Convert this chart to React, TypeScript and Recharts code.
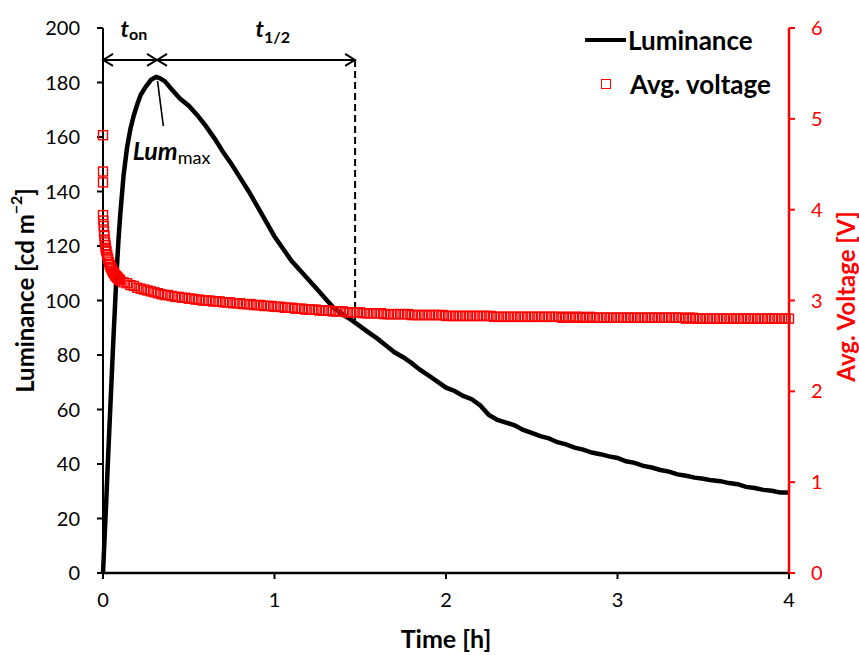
import React from "react";
import { ComposedChart, Line, Scatter, XAxis, YAxis, ReferenceLine, ReferenceDot } from "recharts";

// luminance trace [h] / [cd m-2]
const lumTime = [
  0, 0.01, 0.02, 0.03, 0.04, 0.05, 0.06, 0.07, 0.08, 0.09, 0.1,
  0.12, 0.14, 0.16, 0.18, 0.2, 0.22,
  0.25, 0.28, 0.31, 0.33, 0.36, 0.4, 0.45,
  0.5, 0.55, 0.6, 0.65, 0.7, 0.75, 0.8, 0.85, 0.9, 0.95,
  1.0, 1.05, 1.1, 1.15, 1.2, 1.25, 1.3, 1.35, 1.4, 1.45,
  1.5, 1.55, 1.6, 1.65, 1.7, 1.75, 1.8, 1.85, 1.9, 1.95,
  2.0, 2.05, 2.1, 2.15, 2.2, 2.25, 2.3, 2.35, 2.4, 2.45,
  2.5, 2.55, 2.6, 2.65, 2.7, 2.75, 2.8, 2.85, 2.9, 2.95,
  3.0, 3.05, 3.1, 3.15, 3.2, 3.25, 3.3, 3.35, 3.4, 3.45,
  3.5, 3.55, 3.6, 3.65, 3.7, 3.75, 3.8, 3.85, 3.9, 3.95, 4.0,
];
const lumValue = [
  0, 14, 28, 43, 57, 71, 85, 98, 111, 122, 131,
  146, 156, 163, 168, 172, 175.5,
  178.5, 181, 182, 181.6, 180.5, 177.5, 174,
  171.5, 168, 164, 159.5, 154.5, 150, 145, 140, 134.5, 129,
  123.5, 119, 114.5, 111, 107.5, 104, 100.5, 97, 94.8, 92.8,
  90.5, 88.2, 86, 83.5, 81, 79.2, 77, 74.5, 72.4, 70.2,
  68, 66.8, 65, 63.8, 61.5, 58, 56.2, 55.2, 54.2, 52.5,
  51.4, 50.2, 49.4, 48, 47.2, 46, 45.3, 44.2, 43.6, 42.8,
  42.2, 41, 40.4, 39.3, 38.7, 37.8, 37.2, 36.2, 35.7, 35,
  34.6, 34, 33.7, 33, 32.6, 31.6, 31.2, 30.5, 30.2, 29.5, 29.5,
];

// average voltage [h] / [V]
const voltTime = [
  0, 0, 0, 0, 0.002, 0.004, 0.006, 0.008, 0.01, 0.012, 0.014, 0.016, 0.018,
  0.02, 0.025, 0.03, 0.035, 0.04,
  0.045, 0.05, 0.055, 0.06, 0.065, 0.07, 0.075, 0.08, 0.085, 0.09, 0.095,
  0.1, 0.12, 0.14, 0.16, 0.18, 0.2, 0.22, 0.24, 0.26, 0.28,
  0.3, 0.32, 0.34, 0.36, 0.38, 0.4, 0.42, 0.44, 0.46, 0.48,
  0.5, 0.52, 0.54, 0.56, 0.58, 0.6, 0.62, 0.64, 0.66, 0.68,
  0.7, 0.72, 0.74, 0.76, 0.78, 0.8, 0.82, 0.84, 0.86, 0.88,
  0.9, 0.92, 0.94, 0.96, 0.98, 1.0, 1.02, 1.04, 1.06, 1.08,
  1.1, 1.12, 1.14, 1.16, 1.18, 1.2, 1.22, 1.24, 1.26, 1.28,
  1.3, 1.32, 1.34, 1.36, 1.38, 1.4, 1.42, 1.44, 1.46, 1.48,
  1.5, 1.52, 1.54, 1.56, 1.58, 1.6, 1.62, 1.64, 1.66, 1.68,
  1.7, 1.72, 1.74, 1.76, 1.78, 1.8, 1.82, 1.84, 1.86, 1.88,
  1.9, 1.92, 1.94, 1.96, 1.98, 2.0, 2.02, 2.04, 2.06, 2.08,
  2.1, 2.12, 2.14, 2.16, 2.18, 2.2, 2.22, 2.24, 2.26, 2.28,
  2.3, 2.32, 2.34, 2.36, 2.38, 2.4, 2.42, 2.44, 2.46, 2.48,
  2.5, 2.52, 2.54, 2.56, 2.58, 2.6, 2.62, 2.64, 2.66, 2.68,
  2.7, 2.72, 2.74, 2.76, 2.78, 2.8, 2.82, 2.84, 2.86, 2.88,
  2.9, 2.92, 2.94, 2.96, 2.98, 3.0, 3.02, 3.04, 3.06, 3.08,
  3.1, 3.12, 3.14, 3.16, 3.18, 3.2, 3.22, 3.24, 3.26, 3.28,
  3.3, 3.32, 3.34, 3.36, 3.38, 3.4, 3.42, 3.44, 3.46, 3.48,
  3.5, 3.52, 3.54, 3.56, 3.58, 3.6, 3.62, 3.64, 3.66, 3.68,
  3.7, 3.72, 3.74, 3.76, 3.78, 3.8, 3.82, 3.84, 3.86, 3.88,
  3.9, 3.92, 3.94, 3.96, 3.98, 4.0,
];
const voltValue = [
  4.82, 4.42, 4.3, 3.94, 3.88, 3.82, 3.76, 3.71, 3.67, 3.64, 3.61, 3.58, 3.56,
  3.54, 3.5, 3.46, 3.42, 3.39,
  3.37, 3.35, 3.33, 3.31, 3.3, 3.28, 3.27, 3.26, 3.25, 3.24, 3.23,
  3.22, 3.2, 3.19, 3.17, 3.16, 3.14, 3.13, 3.12, 3.11, 3.1,
  3.09, 3.08, 3.07, 3.06, 3.06, 3.05, 3.04, 3.04, 3.03, 3.03,
  3.02, 3.02, 3.01, 3.01, 3.0, 3.0, 3.0, 2.99, 2.99, 2.99,
  2.98, 2.98, 2.98, 2.97, 2.97, 2.97, 2.96, 2.96, 2.96, 2.95,
  2.95, 2.95, 2.94, 2.94, 2.94, 2.93, 2.93, 2.93, 2.92, 2.92,
  2.92, 2.91, 2.91, 2.91, 2.9, 2.9, 2.9, 2.9, 2.89, 2.89,
  2.89, 2.89, 2.88, 2.88, 2.88, 2.88, 2.87, 2.87, 2.87, 2.87,
  2.87, 2.86, 2.86, 2.86, 2.86, 2.86, 2.86, 2.85, 2.85, 2.85,
  2.85, 2.85, 2.85, 2.85, 2.85, 2.84, 2.84, 2.84, 2.84, 2.84,
  2.84, 2.84, 2.84, 2.84, 2.84, 2.83, 2.83, 2.83, 2.83, 2.83,
  2.83, 2.83, 2.83, 2.83, 2.83, 2.83, 2.83, 2.83, 2.83, 2.82,
  2.82, 2.82, 2.82, 2.82, 2.82, 2.82, 2.82, 2.82, 2.82, 2.82,
  2.82, 2.82, 2.82, 2.82, 2.82, 2.82, 2.82, 2.82, 2.82, 2.81,
  2.82, 2.82, 2.81, 2.82, 2.82, 2.81, 2.81, 2.82, 2.81, 2.81,
  2.81, 2.81, 2.81, 2.81, 2.81, 2.81, 2.81, 2.81, 2.81, 2.81,
  2.81, 2.81, 2.81, 2.81, 2.81, 2.81, 2.81, 2.81, 2.81, 2.81,
  2.81, 2.81, 2.81, 2.81, 2.81, 2.8, 2.81, 2.81, 2.8, 2.8,
  2.8, 2.8, 2.8, 2.8, 2.8, 2.8, 2.8, 2.8, 2.8, 2.8,
  2.8, 2.8, 2.8, 2.8, 2.8, 2.8, 2.8, 2.8, 2.8, 2.8,
  2.8, 2.8, 2.8, 2.8, 2.8, 2.8,
];

const timeTicks = [0, 1, 2, 3, 4];
const lumTicks = [0, 20, 40, 60, 80, 100, 120, 140, 160, 180, 200];
const voltTicks = [0, 1, 2, 3, 4, 5, 6];

// annotation anchors (data units)
const tMax = 0.315;
const tHalf = 1.47;
const arrowLum = 188.3;
const halfLum = 91.5;

const lumData = lumTime.map((t, i) => ({ t, lum: lumValue[i] }));
const voltData = voltTime.map((t, i) => ({ t, volt: voltValue[i] }));

const FONT = "Lato, 'Open Sans', sans-serif";
const RED = "#FF0000";

const tickStyle = { fontSize: 20, fontFamily: FONT, fill: "#000" };

function HollowSquare(props: any) {
  const { cx, cy } = props;
  if (cx == null || cy == null) return null;
  return <rect x={cx - 4.5} y={cy - 4.5} width={9} height={9} fill="none" stroke={RED} strokeWidth={1.4} />;
}

const LeftTitle = (props: any) => {
  const { x, y, height } = props.viewBox;
  const cx = x + 24;
  const cy = y + height / 2 - 10;
  return (
    <text x={cx} y={cy} transform={`rotate(-90 ${cx} ${cy})`} textAnchor="middle" dominantBaseline="central"
      fontFamily={FONT} fontWeight="bold" fontSize={24} fill="#000">
      Luminance [cd m<tspan dy={-9} fontSize={16}>−2</tspan><tspan dy={9}>]</tspan>
    </text>
  );
};

const RightTitle = (props: any) => {
  const { x, y, height } = props.viewBox;
  const cx = x + 56;
  const cy = y + height / 2 - 4;
  return (
    <text x={cx} y={cy} transform={`rotate(-90 ${cx} ${cy})`} textAnchor="middle" dominantBaseline="central"
      fontFamily={FONT} fontWeight="bold" fontSize={24} fill={RED}>
      Avg. Voltage [V]
    </text>
  );
};

const BottomTitle = (props: any) => {
  const { x, y, width } = props.viewBox;
  return (
    <text x={x + width / 2} y={y + 75} textAnchor="middle" fontFamily={FONT} fontWeight="bold" fontSize={25} fill="#000">
      Time [h]
    </text>
  );
};

const note = (main: string, sub: string, subDy: number) => (props: any) => {
  const { x, y } = props.viewBox;
  return (
    <text x={x} y={y} textAnchor="middle" fontFamily={FONT} fill="#000">
      <tspan fontSize={23} fontWeight="bold" fontStyle="italic">{main}</tspan>
      <tspan fontSize={16} fontWeight="bold" dy={subDy}>{sub}</tspan>
    </text>
  );
};

const lumMaxNote = (props: any) => {
  const { x, y } = props.viewBox;
  return (
    <text x={x} y={y} textAnchor="middle" fontFamily={FONT} fill="#000">
      <tspan fontSize={25} fontWeight="bold" fontStyle="italic">Lum</tspan>
      <tspan fontSize={18} dy={4}>max</tspan>
    </text>
  );
};

export default function App() {
  return (
    <div style={{ position: "absolute", left: 0, top: 0, width: 859, height: 655, background: "#fff" }}>
      <ComposedChart width={859} height={655} margin={{ top: 28, right: 0, bottom: 0, left: 0 }}>
        <defs>
          <marker id="chev" viewBox="0 0 10 12" refX={10} refY={6} markerWidth={10} markerHeight={12}
            markerUnits="userSpaceOnUse" orient="auto-start-reverse" overflow="visible">
            <path d="M0,0 L10,6 L0,12" fill="none" stroke="#000" strokeWidth={1.8} />
          </marker>
        </defs>
        <XAxis dataKey="t" type="number" domain={[0, 4]} ticks={timeTicks} interval={0} height={82}
          tickSize={6} tickMargin={14} tick={tickStyle}
          axisLine={{ stroke: "#000", strokeWidth: 2.5 }} tickLine={{ stroke: "#000", strokeWidth: 2 }}
          label={<BottomTitle />} />
        <YAxis yAxisId="left" orientation="left" domain={[0, 200]} ticks={lumTicks} interval={0} width={103}
          tickSize={6} tickMargin={17} tick={tickStyle}
          axisLine={{ stroke: "#000", strokeWidth: 2 }} tickLine={{ stroke: "#000", strokeWidth: 2 }}
          label={<LeftTitle />} />
        <YAxis yAxisId="right" orientation="right" domain={[0, 6]} ticks={voltTicks} interval={0} width={70}
          tickSize={6} tickMargin={16} tick={{ ...tickStyle, fill: RED }}
          axisLine={{ stroke: RED, strokeWidth: 2.5 }} tickLine={{ stroke: RED, strokeWidth: 2 }}
          label={<RightTitle />} />

        <Line yAxisId="left" data={lumData} dataKey="lum" type="linear" stroke="#000" strokeWidth={4.5}
          dot={false} activeDot={false} isAnimationActive={false} />
        <Scatter yAxisId="right" data={voltData} dataKey="volt" shape={<HollowSquare />} isAnimationActive={false} />

        <ReferenceLine yAxisId="left" segment={[{ x: 0, y: arrowLum }, { x: tMax, y: arrowLum }]}
          stroke="#000" strokeWidth={2} markerStart="url(#chev)" markerEnd="url(#chev)" />
        <ReferenceLine yAxisId="left" segment={[{ x: tMax, y: arrowLum }, { x: tHalf, y: arrowLum }]}
          stroke="#000" strokeWidth={2} markerStart="url(#chev)" markerEnd="url(#chev)" />
        <ReferenceLine yAxisId="left" segment={[{ x: tHalf, y: arrowLum }, { x: tHalf, y: halfLum }]}
          stroke="#000" strokeWidth={2} strokeDasharray="7 4" />
        <ReferenceLine yAxisId="left" segment={[{ x: 0.318, y: 180.5 }, { x: 0.352, y: 164 }]}
          stroke="#000" strokeWidth={1.6} />

        <ReferenceDot yAxisId="left" x={0.18} y={196.7} r={0} label={note("t", "on", 3)} />
        <ReferenceDot yAxisId="left" x={0.99} y={196.7} r={0} label={note("t", "1/2", 6)} />
        <ReferenceDot yAxisId="left" x={0.4} y={151.5} r={0} label={lumMaxNote} />
      </ComposedChart>

      <div style={{ position: "absolute", left: 585, top: 23, fontFamily: FONT, fontWeight: "bold", fontSize: 26, color: "#000" }}>
        <div style={{ display: "flex", alignItems: "center", height: 34 }}>
          <span style={{ display: "inline-block", width: 41, height: 4, background: "#000", marginRight: 2 }} />
          <span>Luminance</span>
        </div>
        <div style={{ display: "flex", alignItems: "center", height: 34, marginTop: 10 }}>
          <span style={{ display: "inline-block", width: 8, height: 8, border: `1.4px solid ${RED}`, marginLeft: 16, marginRight: 19 }} />
          <span>Avg. voltage</span>
        </div>
      </div>
    </div>
  );
}
